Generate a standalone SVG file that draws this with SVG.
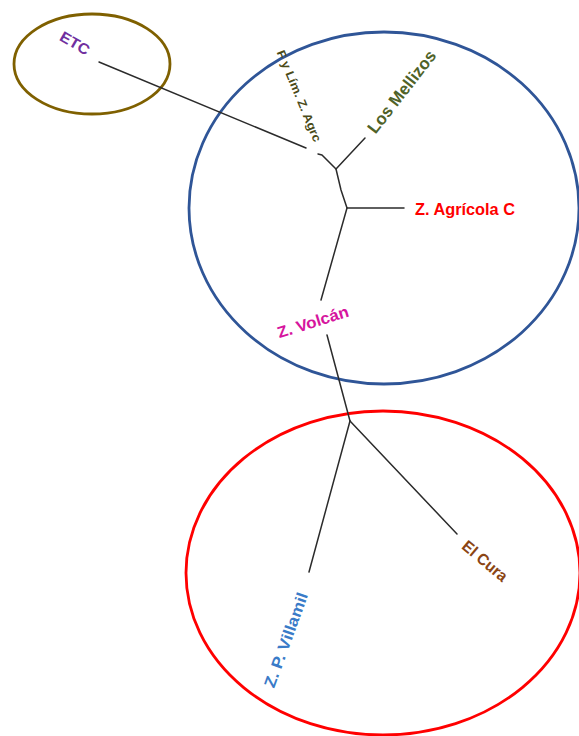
<svg xmlns="http://www.w3.org/2000/svg" width="579" height="736" viewBox="0 0 579 736">
<style>
.ring{fill:none;stroke-width:2.8}
.edge{fill:none;stroke:#2b2b2b;stroke-width:1.5;stroke-linecap:round;stroke-linejoin:round}
.lbl{font-family:"Liberation Sans",Arial,sans-serif;font-weight:bold;text-anchor:middle;dominant-baseline:central}
</style>
<rect width="579" height="736" fill="#ffffff"/>
<g id="group-etc"><ellipse class="ring" cx="92" cy="64" rx="78" ry="50" stroke="#7f6000"/></g>
<g id="group-blue"><ellipse class="ring" cx="384" cy="208" rx="195" ry="176" stroke="#2f5597"/></g>
<g id="group-red"><ellipse class="ring" cx="383" cy="573" rx="197" ry="162" stroke="#ff0000"/></g>
<g id="connectors">
<path class="edge" d="M99,62 L306,148"/>
<path class="edge" d="M318,154 L322,155 L336,169 L365,138"/>
<path class="edge" d="M336,169 L341,190 L347,208 L404,208"/>
<path class="edge" d="M347,208 L321,300"/>
<path class="edge" d="M327,335 L350,421"/>
<path class="edge" d="M350,421 L309,572"/>
<path class="edge" d="M350,421 L457,534"/>
</g>
<g id="node-etc"><text class="lbl" x="75" y="43" font-size="15" fill="#7030a0" textLength="32" lengthAdjust="spacingAndGlyphs" transform="rotate(30 75 43)">ETC</text></g>
<g id="node-fylim"><text class="lbl" x="299" y="96" font-size="12" fill="#4a4a18" textLength="98" lengthAdjust="spacingAndGlyphs" transform="rotate(67.5 299 96)">F y Lím. Z. Agrc</text></g>
<g id="node-mellizos"><text class="lbl" x="402" y="92" font-size="17" fill="#4f6228" textLength="100" lengthAdjust="spacingAndGlyphs" transform="rotate(-52 402 92)">Los Mellizos</text></g>
<g id="node-agricola"><text class="lbl" x="465" y="209" font-size="17" fill="#ff0000" textLength="100" lengthAdjust="spacingAndGlyphs">Z. Agrícola C</text></g>
<g id="node-volcan"><text class="lbl" x="313" y="322" font-size="16" fill="#d6159e" textLength="74" lengthAdjust="spacingAndGlyphs" transform="rotate(-17.5 313 322)">Z. Volcán</text></g>
<g id="node-elcura"><text class="lbl" x="485" y="561" font-size="16" fill="#8b4513" textLength="54" lengthAdjust="spacingAndGlyphs" transform="rotate(40 485 561)">El Cura</text></g>
<g id="node-villamil"><text class="lbl" x="286" y="640" font-size="16" fill="#3a7bc8" textLength="100" lengthAdjust="spacingAndGlyphs" transform="rotate(-70 286 640)" style="font-weight:600">Z. P. Villamil</text></g>
</svg>
